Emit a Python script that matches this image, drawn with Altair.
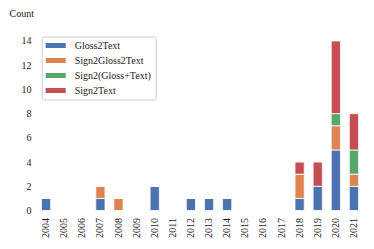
import altair as alt
import pandas as pd

years = [str(y) for y in range(2004, 2022)]
categories = ["Gloss2Text", "Sign2Gloss2Text", "Sign2(Gloss+Text)", "Sign2Text"]
colors = ["#4C72B0", "#DD8452", "#55A868", "#C44E52"]

gloss2text       = [1, 0, 0, 1, 0, 0, 2, 0, 1, 1, 1, 0, 0, 0, 1, 2, 5, 2]
sign2gloss2text  = [0, 0, 0, 1, 1, 0, 0, 0, 0, 0, 0, 0, 0, 0, 2, 0, 2, 1]
sign2gloss_text  = [0, 0, 0, 0, 0, 0, 0, 0, 0, 0, 0, 0, 0, 0, 0, 0, 1, 2]
sign2text        = [0, 0, 0, 0, 0, 0, 0, 0, 0, 0, 0, 0, 0, 0, 1, 2, 6, 3]

series = [gloss2text, sign2gloss2text, sign2gloss_text, sign2text]
rows = []
for ci, (cat, vals) in enumerate(zip(categories, series)):
    for y, v in zip(years, vals):
        rows.append({"Year": y, "Category": cat, "Count": v, "idx": ci})
df = pd.DataFrame(rows)

font = "Liberation Serif"

chart = alt.Chart(df).mark_bar(stroke="white", strokeWidth=0.8).encode(
    x=alt.X("Year:N", scale=alt.Scale(domain=years, paddingInner=0.49, paddingOuter=0.245),
            axis=alt.Axis(title=None, labelAngle=-90, labelPadding=7, ticks=False, domain=False,
                          labelFontSize=10, labelFont=font, labelColor="#222")),
    y=alt.Y("Count:Q", stack="zero", scale=alt.Scale(domain=[0, 14.7], nice=False),
            axis=alt.Axis(title="Count", values=[0, 2, 4, 6, 8, 10, 12, 14], grid=False,
                          ticks=False, domain=False, labelPadding=6, labelFontSize=10,
                          labelFont=font, labelColor="#222",
                          titleAngle=0, titleX=-28, titleY=-16.5, titleAlign="left",
                          titleBaseline="alphabetic", titleFont=font, titleFontSize=10,
                          titleFontWeight="normal", titleColor="#222")),
    color=alt.Color("Category:N", scale=alt.Scale(domain=categories, range=colors),
                    legend=alt.Legend(title=None, orient="none", legendX=4.7, legendY=4,
                                      direction="vertical", padding=4,
                                      symbolType="M-1,-0.5H3V0.5H-1Z", symbolSize=100,
                                      symbolStrokeWidth=0, symbolOpacity=1,
                                      labelOffset=19, labelFont=font, labelFontSize=10,
                                      labelColor="#222", rowPadding=5,
                                      strokeColor="#cccccc", fillColor="rgba(255,255,255,0.8)",
                                      cornerRadius=2)),
    order=alt.Order("idx:Q", sort="ascending"),
).properties(
    width=326, height=178,
    autosize=alt.AutoSizeParams(type="none"),
    padding={"left": 29, "top": 24.5, "right": 3, "bottom": 30.5},
).configure(font=font).configure_view(stroke=None)

chart.save("out.html", embed_options={"renderer": "svg", "actions": False})
